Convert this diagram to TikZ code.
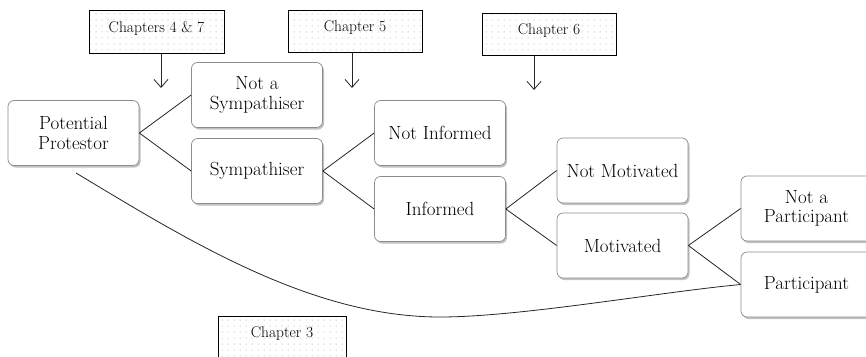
\documentclass[tikz,border=0pt]{standalone}
\usetikzlibrary{shadows,patterns.meta,arrows.meta}
\begin{document}
\begin{tikzpicture}[x=1pt,y=-1pt,
  box/.style={draw=black!45, line width=0.7pt, fill=white, rounded corners=6pt,
    minimum width=131pt, minimum height=65pt, align=center, inner sep=2pt,
    font=\fontsize{19}{19.5}\selectfont,
    drop shadow={shadow xshift=1.5pt, shadow yshift=-2pt, fill=black!40, opacity=0.6}},
  chap/.style={draw=black, line width=1pt, pattern={Dots[radius=0.5pt,distance=6pt]},
    pattern color=black!40, minimum width=134pt, minimum height=42pt,
    text depth=10pt, text height=11pt, font=\fontsize{15.5}{18}\selectfont},
  link/.style={draw=black!85, line width=0.8pt},
  arr/.style={draw=black!85, line width=0.8pt, -{Straight Barb[length=8pt,width=14pt,line width=0.8pt]}}
]
\useasboundingbox (0,0) rectangle (866,356);
\clip (0,0) rectangle (866,356);
\fill[white] (0,0) rectangle (866,356);

% main boxes
\node[box] (pp)    at (73.5,133) {Potential\\Protestor};
\node[box] (nsym)  at (257,95)   {Not a\\Sympathiser};
\node[box] (sym)   at (257,171)  {Sympathiser};
\node[box] (ninf)  at (440,133)  {Not Informed};
\node[box] (inf)   at (440,209)  {Informed};
\node[box] (nmot)  at (622.5,170.5) {Not Motivated};
\node[box] (mot)   at (622.5,245.5) {Motivated};
\node[box] (npart) at (806.5,208.5) {Not a\\Participant};
\node[box] (part)  at (806.5,284.5) {Participant};

% chapter boxes
\node[chap, minimum width=135pt, minimum height=43pt] (c47) at (156.5,31.5) {Chapters 4 \& 7};
\node[chap] (c5) at (355,31) {Chapter 5};
\node[chap] (c6) at (549,34) {Chapter 6};
\node[chap, minimum width=128pt] (c3) at (282,337) {Chapter 3};

% arrows from chapter boxes
\coordinate (a47) at (161,88);
\coordinate (a5) at (352,88);
\coordinate (a6) at (534,90);
\draw[arr] (c47.south -| a47) -- (a47);
\draw[arr] (c5.south -| a5) -- (a5);
\draw[arr] (c6.south -| a6) -- (a6);

% tree connectors
\draw[link] (pp.east) -- (nsym.west);
\draw[link] (pp.east) -- (sym.west);
\draw[link] (sym.east) -- (ninf.west);
\draw[link] (sym.east) -- (inf.west);
\draw[link] (inf.east) -- (nmot.west);
\draw[link] (inf.east) -- (mot.west);
\draw[link] (mot.east) -- (npart.west);
\draw[link] (mot.east) -- (part.west);

% long curve
\coordinate (cs) at (76,173);
\draw[link] (cs) .. controls (186,239) and (310,317) .. (440,317)
  .. controls (520,317) and (660,292) .. (part.west);
\end{tikzpicture}
\end{document}
